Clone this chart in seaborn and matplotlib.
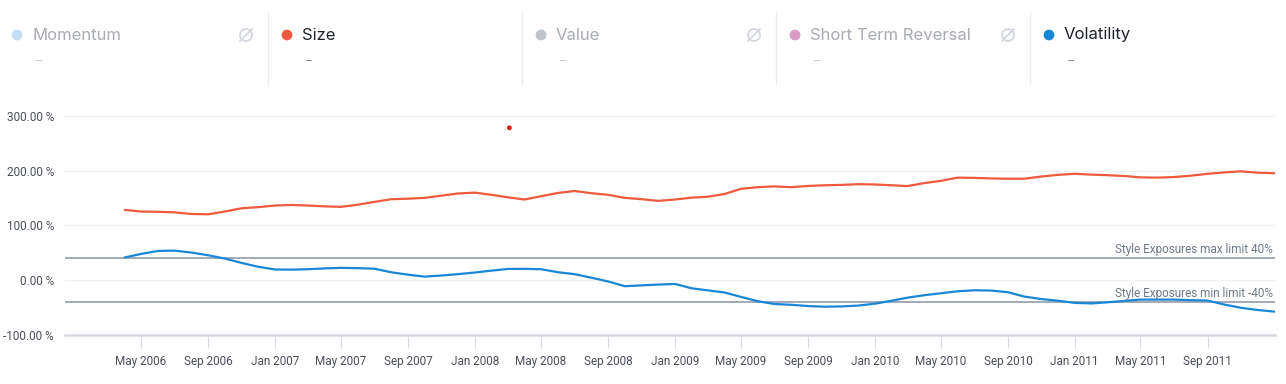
import numpy as np
import pandas as pd
import seaborn as sns
import matplotlib
matplotlib.use("Agg")
from matplotlib import pyplot as plt
import matplotlib.dates as mdates
from matplotlib.patches import Ellipse

sns.set_theme(style="white")
plt.rcParams['font.family'] = ['Roboto', 'DejaVu Sans']

# monthly exposures, Apr 2006 .. Jan 2012 (%)
months = pd.date_range("2006-04-01", "2012-01-01", freq="MS")
size = [128, 125, 124.5, 123.5, 120.5, 120, 125, 131, 133, 136,
        137, 136, 134.5, 133.5, 137.5, 142.5, 147.5, 148.5, 150, 154,
        158, 159.5, 155.5, 151, 147, 153, 159, 162.5, 158.5, 155.5,
        150, 147.5, 144.5, 147, 150.5, 152, 157, 166.5, 169.5, 171,
        169.5, 171.8, 173, 173.7, 175, 174.5, 173, 171.5, 177, 181,
        187, 186.5, 185.5, 185, 185, 189, 192, 194, 192.5, 191.5,
        190, 187.5, 187, 188, 190.5, 194, 196.5, 198.5, 196, 195]
volatility = [41, 47.5, 53, 53.5, 50, 45, 39, 31, 24, 19,
              18.8, 19.5, 21, 22, 21.5, 20.5, 14, 9.5, 6, 8,
              10.5, 13.5, 17, 20, 20.2, 19.5, 14, 10.5, 4, -3,
              -11.5, -10, -8.5, -7.5, -15.5, -19, -23, -31, -39, -44,
              -45.5, -47.8, -49, -48.5, -47, -43.5, -38, -32.5, -28, -24.5,
              -20.8, -19, -19.5, -22.5, -30.5, -35, -38, -42, -43, -41,
              -38.5, -36, -36, -36, -37, -37.8, -45, -51, -55, -58]
# isolated Size point
spike_date = [pd.Timestamp("2008-03-04")]
spike_value = [278]

limit_max = 40
limit_min = -40

tick_dates = pd.date_range("2006-05-01", "2011-09-01", freq="4MS")

legend_names = ["Momentum", "Size", "Value", "Short Term Reversal", "Volatility"]
legend_colors = ["#c6dcf4", "#f05a3c", "#bfc4cc", "#d99ac6", "#1a87d6"]
legend_active = [False, True, False, False, True]

df = pd.DataFrame({"date": list(months) * 2,
                   "value": size + volatility,
                   "factor": ["Size"] * len(size) + ["Volatility"] * len(volatility)})

fig = plt.figure(figsize=(12.86, 3.84), dpi=100)
W, H = 1286, 384
ax = fig.add_axes([65 / W, 49.4 / H, (1275 - 65) / W, 235.2 / H])

ax.axhline(limit_max, color="#a3aab5", lw=1.4, zorder=1)
ax.axhline(limit_min, color="#a3aab5", lw=1.4, zorder=1)

sns.lineplot(data=df, x="date", y="value", hue="factor",
             palette={"Size": "#ee5a3e", "Volatility": "#1a87d6"},
             linewidth=1.6, legend=False, ax=ax, zorder=3)
sns.scatterplot(x=spike_date, y=spike_value, color="#e3161c", s=12,
                edgecolor="none", ax=ax, zorder=4)

ax.set_ylim(-100, 330)
ax.set_xlim(pd.Timestamp("2005-12-13"), pd.Timestamp("2012-01-02"))
yt = [-100, 0, 100, 200, 300]
ax.set_yticks(yt)
ax.set_yticklabels([f"{v:.2f} %" for v in yt])
for v in yt[1:]:
    ax.axhline(v, color="#f0f1f3", lw=1, zorder=0)

ax.set_xticks(tick_dates)
ax.xaxis.set_major_formatter(mdates.DateFormatter("%b %Y"))
ax.set_xlabel("")
ax.set_ylabel("")

for s in ["top", "right", "left"]:
    ax.spines[s].set_visible(False)
ax.spines["bottom"].set_color("#d6dae0")
ax.spines["bottom"].set_linewidth(1.8)
ax.tick_params(axis="x", length=9, width=0.8, color="#d6dae0", pad=6,
               labelsize=8.5, labelcolor="#4a4f57", bottom=True)
ax.tick_params(axis="y", length=0, pad=8, labelsize=8.5, labelcolor="#4a4f57")

ax.text(0.998, limit_max + 4, "Style Exposures max limit 40%", transform=ax.get_yaxis_transform(),
        ha="right", va="bottom", fontsize=8.5, color="#6f7887")
ax.text(0.998, limit_min + 4, "Style Exposures min limit -40%", transform=ax.get_yaxis_transform(),
        ha="right", va="bottom", fontsize=8.5, color="#6f7887")

# header legend cards
hax = fig.add_axes([0, 0, 1, 1], facecolor="none")
hax.set_xlim(0, W)
hax.set_ylim(H, 0)
hax.axis("off")
dividers = [268, 522, 776, 1030]
dot_x = [17, 287, 541, 795, 1049]
card_end = dividers + [W]
for i, (name, col, act) in enumerate(zip(legend_names, legend_colors, legend_active)):
    x0 = dot_x[i]
    hax.scatter([x0], [35], s=60, color=col, edgecolor="none")
    hax.text(x0 + 15, 35, name, fontsize=12, va="center", ha="left",
             color="#1f2329" if act else "#a8abb0", family=["Inter", "DejaVu Sans"])
    hax.text(x0 + 17, 62, "–", fontsize=9, va="center", ha="left",
             color="#8a8f96" if act else "#c8cbd0")
    if not act:
        ix = card_end[i] - 22
        hax.add_patch(Ellipse((ix, 35), 12, 12, fill=False, lw=1.3, ec="#d3d7dd"))
        hax.plot([ix - 6, ix + 6], [41, 29], color="#d3d7dd", lw=1.3)
for d in dividers:
    hax.plot([d, d], [12, 84], color="#ebedf0", lw=1)

fig.savefig("out.png", dpi=100)
